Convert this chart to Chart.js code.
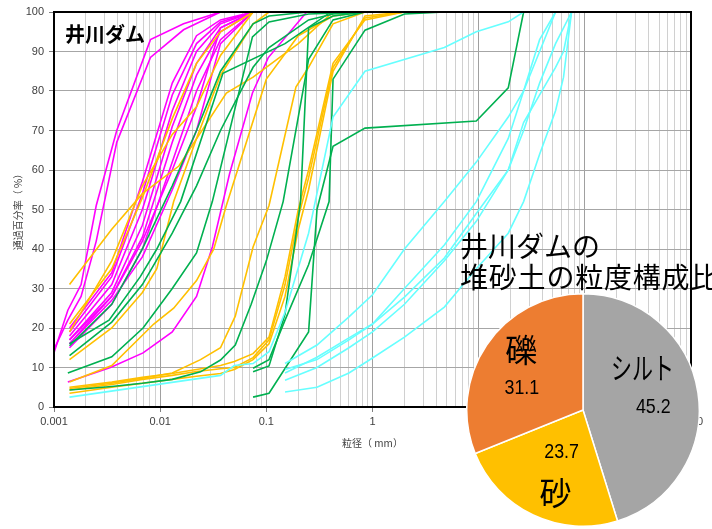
<!DOCTYPE html>
<html>
<head>
<meta charset="utf-8">
<script src="https://cdn.jsdelivr.net/npm/chart.js@4.4.1/dist/chart.umd.min.js"></script>
<style>
  html, body { margin: 0; padding: 0; background: #fff; overflow: hidden; width: 712px; height: 529px; }
  #wrap { position: relative; width: 712px; height: 529px; overflow: hidden; }
  #main { position: absolute; left: 0; top: 0; }
  #pieTitle { position: absolute; left: 460px; top: 230px; font: 28px "Noto Sans CJK JP", sans-serif;
              line-height: 31px; white-space: nowrap; color: #000; }
  #pieTitle .wide { letter-spacing: 0.8px; }
  #pieBox { position: absolute; left: 466px; top: 293px; width: 234px; height: 234px; }
</style>
</head>
<body>
<div id="wrap">
  <canvas id="main" width="712" height="529"></canvas>
  <div id="pieTitle">井川ダムの<br><span class="wide">堆砂土の粒度構成比</span></div>
  <div id="pieBox"><canvas id="pie" width="234" height="234"></canvas></div>
</div>
<script>
// ---- axis labels ----
const xTickLabels = ['0.001', '0.01', '0.1', '1', '10', '100', '1000'];
const yTickValues = [0, 10, 20, 30, 40, 50, 60, 70, 80, 90, 100];
const plotTitle = '井川ダム';
const xTitle = '粒径（ mm）';
const yTitle = '通過百分率（ %）';

// ---- grain size curves: particle size (mm) / percent passing ----
// silt-clay samples (magenta)
const dMgSteep = [0.0009, 0.00135, 0.0018, 0.0025, 0.0039, 0.0081, 0.0166, 0.037, 0.075];
const pMg1 = [10, 24.5, 31, 51, 70, 93, 97, 100, 100];
const pMg2 = [12, 22, 28, 42, 67, 88.5, 95.5, 100, 100];
const dHydro = [0.0014, 0.0035, 0.0068, 0.013, 0.022, 0.037, 0.075];
const pMg3 = [15, 26, 40, 62, 80, 93, 100];
const pMg4 = [16, 28, 43, 67, 84, 95, 100];
const pMg5 = [17, 29, 46, 71, 87, 96, 100];
const pMg6 = [18, 31, 50, 75, 90, 97, 100];
const pMg7 = [19, 33, 54, 79, 92, 97.5, 100];
const pMg8 = [20, 34, 57, 82, 94, 98, 100];
const pMg9 = [16, 27, 38, 55, 70, 92, 100];
const pMg10 = [17, 28, 42, 60, 76, 96, 100];
const dMg11 = [0.00135, 0.0034, 0.0069, 0.013, 0.022, 0.031, 0.045, 0.074, 0.104, 0.24];
const pMg11 = [6.3, 10, 13.7, 19, 28, 40.5, 59, 79.5, 88.4, 100];

// silty sand samples (orange)
const dOr1 = [0.0014, 0.0035, 0.0068, 0.015, 0.042, 0.075, 0.2, 0.425];
const pOr1 = [31, 45, 54, 61, 79.5, 83.5, 92, 100];
const pOr2 = [19, 37, 56, 69, 76, 89, 100];
const pOr3 = [21, 35, 53, 73, 87, 95, 100];
const dOr4 = [0.0014, 0.0035, 0.0068, 0.0093, 0.0134, 0.022, 0.037, 0.075, 0.106];
const pOr4 = [12, 20, 29, 35, 52, 68, 84, 97, 100];
const dOr5 = [0.0014, 0.0035, 0.0087, 0.0134, 0.022, 0.032, 0.042, 0.1, 0.2, 0.425, 0.85];
const pOr5 = [6.3, 10.5, 21, 25, 32, 40, 51, 83, 94, 99, 100];
const dOr6 = [0.0014, 0.0035, 0.0068, 0.013, 0.024, 0.037, 0.051, 0.075, 0.106, 0.19, 0.25, 0.425, 0.85];
const pOr6 = [4.7, 6, 7.3, 8.6, 12, 15, 23, 40.5, 51, 81, 86, 97, 100];
const dLow = [0.0014, 0.0035, 0.0068, 0.013, 0.022, 0.037, 0.05, 0.075, 0.106, 0.15, 0.2, 0.25, 0.425, 0.85, 2];
const pOr7 = [5, 6.3, 7.5, 8.5, 9.5, 10.5, 11.5, 13.5, 17.7, 33, 50, 60, 87, 98, 100];
const pOr8 = [4.3, 5.7, 7, 8, 9, 9.7, 10, 12.5, 17, 31, 48, 58, 86, 98.5, 100];
const pOr9 = [3.5, 5, 6, 7, 7.8, 8.5, 9.5, 12, 16, 28, 45, 55, 85, 99, 100];

// sandy samples (green)
const dGr1 = [0.0014, 0.0035, 0.0068, 0.013, 0.024, 0.037, 0.051, 0.072, 0.1, 0.144, 0.25, 0.425, 0.85];
const pGr1 = [4.3, 5.2, 6, 7, 8.9, 11.9, 15.7, 26, 37, 52, 88, 98, 100];
const dGr2 = [0.0014, 0.0033, 0.0065, 0.0093, 0.0156, 0.039, 0.15, 0.39, 0.85];
const pGr2 = [16, 22, 33, 40, 52, 84.5, 92, 99.7, 100];
const dGr3 = [0.00135, 0.0035, 0.0069, 0.013, 0.022, 0.031, 0.074, 0.106, 0.25, 0.85];
const pGr3 = [8.6, 12.7, 20, 30, 39, 52, 93.7, 97.5, 99.5, 100];
const dGr4 = [0.0014, 0.0035, 0.0068, 0.013, 0.022, 0.037, 0.075, 0.106, 0.25, 0.425, 0.85];
const pGr4 = [13, 21.5, 31, 44, 56, 70, 86, 91, 98, 99.5, 100];
const pGr5 = [15.5, 26, 40, 56, 70, 85, 97, 99, 100, 100, 100];
const dGr6 = [0.075, 0.106, 0.15, 0.21, 0.25, 0.425, 0.85];
const pGr6 = [8.9, 10.4, 23.5, 52, 96, 99, 100];
const dGr7 = [0.075, 0.106, 0.15, 0.25, 0.39, 0.425, 0.85, 2, 4.75];
const pGr7 = [9.8, 12, 22, 36, 52, 83, 95.4, 99.5, 100];
const dGr8 = [0.075, 0.106, 0.25, 0.3, 0.425, 0.85, 9.5, 19, 26.5];
const pGr8 = [2.5, 3.5, 19, 50, 66, 70.6, 72.4, 80.8, 100];

// gravelly samples (cyan)
const dCy1 = [0.0014, 0.037, 0.05, 0.075, 0.106, 0.15, 0.25, 0.425, 0.85, 4.75, 9.5, 19, 26.5];
const pCy1 = [2.5, 8, 10.5, 11, 14, 24, 44, 73.4, 85, 91, 95, 97.5, 100];
const dGravel = [0.15, 0.3, 0.6, 1, 2, 4.75, 9.5, 19, 26.5, 37.5, 53, 63, 75];
const pCy2 = [11, 15.7, 22.8, 28.4, 40, 52, 62, 73.4, 80, 90, 100, 100, 100];
const pCy3 = [8.6, 12.6, 17.5, 21, 27.8, 37.7, 49, 60, 72, 79, 86, 90, 100];
const pCy4 = [6.8, 10, 15, 19, 26, 37, 47, 60, 70, 82, 92, 96, 100];
const pCy5 = [3.8, 5, 8.6, 12.4, 17.7, 25.3, 35, 44, 52, 64, 75, 83.5, 100];
const pCy6 = [9.5, 12, 17, 21, 30, 41, 52, 68, 80, 93, 100, 100, 100];

// ---- composition of the deposit ----
const pieLabels = ['シルト', '砂', '礫'];
const pieValues = [45.2, 23.7, 31.1];

// ---- styling ----
const lineColors = { magenta: '#FF00FF', orange: '#FFC000', green: '#00B050', cyan: '#66FFFF' };
const pieColors = ['#A5A5A5', '#FFC000', '#ED7D31'];
const jpFont = '"Noto Sans CJK JP", sans-serif';
const numFont = '"Liberation Sans", Arial, sans-serif';

const curves = [
  ['cyan', dCy1, pCy1], ['cyan', dGravel, pCy2], ['cyan', dGravel, pCy3],
  ['cyan', dGravel, pCy4], ['cyan', dGravel, pCy5], ['cyan', dGravel, pCy6],
  ['green', dGr1, pGr1], ['green', dGr2, pGr2], ['green', dGr3, pGr3], ['green', dGr4, pGr4],
  ['green', dGr4, pGr5], ['green', dGr6, pGr6], ['green', dGr7, pGr7], ['green', dGr8, pGr8],
  ['orange', dOr1, pOr1], ['orange', dHydro, pOr2], ['orange', dHydro, pOr3], ['orange', dOr4, pOr4],
  ['orange', dOr5, pOr5], ['orange', dOr6, pOr6], ['orange', dLow, pOr7], ['orange', dLow, pOr8],
  ['orange', dLow, pOr9],
  ['magenta', dMgSteep, pMg1], ['magenta', dMgSteep, pMg2], ['magenta', dHydro, pMg3],
  ['magenta', dHydro, pMg4], ['magenta', dHydro, pMg5], ['magenta', dHydro, pMg6],
  ['magenta', dHydro, pMg7], ['magenta', dHydro, pMg8], ['magenta', dHydro, pMg9],
  ['magenta', dHydro, pMg10], ['magenta', dMg11, pMg11]
];

const datasets = curves.map(([c, xs, ys]) => ({
  data: xs.map((x, i) => ({ x: x, y: ys[i] })),
  borderColor: lineColors[c],
  borderWidth: 1.6,
  pointRadius: 0,
  fill: false,
  tension: 0
}));

// decade ticks with the 2..9 minor steps between them
const majorValues = xTickLabels.map(Number);
const xTickValues = [];
majorValues.forEach((v, i) => {
  if (i === majorValues.length - 1) { xTickValues.push(v); return; }
  for (let m = 1; m <= 9; m++) xTickValues.push(Number((v * m).toPrecision(6)));
});
const isMajor = v => Math.abs(Math.log10(v) - Math.round(Math.log10(v))) < 1e-9;

const framePlugin = {
  id: 'frame',
  afterDraw(chart) {
    const { ctx, chartArea: a } = chart;
    ctx.save();
    ctx.strokeStyle = '#000';
    ctx.lineWidth = 2;
    ctx.strokeRect(a.left, a.top, a.right - a.left, a.bottom - a.top);
    ctx.fillStyle = '#000';
    ctx.font = 'bold 20px ' + jpFont;
    ctx.textBaseline = 'middle';
    ctx.textAlign = 'left';
    ctx.fillText(plotTitle, a.left + 11, a.top + 22);
    ctx.restore();
  }
};

new Chart(document.getElementById('main'), {
  type: 'line',
  data: { datasets: datasets },
  options: {
    responsive: false,
    devicePixelRatio: 1,
    animation: false,
    events: [],
    layout: { padding: { top: 12, right: 21, left: 0, bottom: 0 } },
    plugins: { legend: { display: false }, tooltip: { enabled: false } },
    scales: {
      x: {
        type: 'logarithmic',
        min: 0.001, max: 1000,
        afterBuildTicks: s => { s.ticks = xTickValues.map(v => ({ value: v, major: isMajor(v) })); },
        afterFit: s => { s.height = 122; },
        ticks: {
          autoSkip: false, maxRotation: 0, padding: 3,
          font: { family: numFont, size: 11 }, color: '#404040',
          callback: v => isMajor(v) ? xTickLabels[majorValues.findIndex(m => Math.abs(m - v) / m < 1e-9)] : ''
        },
        grid: {
          color: c => (c.tick && isMajor(c.tick.value)) ? '#A0A0A0' : '#D0D0D0',
          lineWidth: 1,
          tickLength: 5,
          tickColor: c => (c.tick && isMajor(c.tick.value)) ? '#808080' : 'rgba(0,0,0,0)'
        },
        border: { display: false },
        title: { display: true, text: xTitle, color: '#404040',
                 font: { family: jpFont, size: 10 }, padding: { top: 0, bottom: 80 } }
      },
      y: {
        min: 0, max: 100,
        afterBuildTicks: s => { s.ticks = yTickValues.map(v => ({ value: v })); },
        afterFit: s => { s.width = 54; },
        ticks: { padding: 5, font: { family: numFont, size: 11 }, color: '#404040' },
        grid: { color: '#A6A6A6', lineWidth: 1, tickLength: 5, tickColor: '#808080' },
        border: { display: false },
        title: { display: true, text: yTitle, color: '#404040',
                 font: { family: jpFont, size: 10 }, padding: { top: 12, bottom: 0 } }
      }
    }
  },
  plugins: [framePlugin]
});

// label placement inside each slice: angle shift from the slice middle (deg), radius fraction
const sliceNameLayout = [[-27, 0.63], [-7, 0.75], [10, 0.74]];
const sliceValueLayout = [[6, 0.605], [1.3, 0.41], [-14, 0.56]];
const sliceNameFont = [[30, 0.7], [32, 1], [32, 1]];

const pieLabelPlugin = {
  id: 'pieLabels',
  afterDatasetsDraw(chart) {
    const { ctx } = chart;
    const arcs = chart.getDatasetMeta(0).data;
    ctx.save();
    ctx.fillStyle = '#000';
    ctx.textAlign = 'center';
    ctx.textBaseline = 'middle';
    arcs.forEach((arc, i) => {
      const p = arc.getProps(['x', 'y', 'startAngle', 'endAngle', 'outerRadius'], true);
      const mid = (p.startAngle + p.endAngle) / 2;
      const put = (text, layout, font, sx) => {
        const ang = mid + layout[0] * Math.PI / 180;
        const r = p.outerRadius * layout[1];
        const tx = p.x + Math.cos(ang) * r;
        const ty = p.y + Math.sin(ang) * r;
        ctx.save();
        ctx.translate(tx, ty);
        ctx.scale(sx, 1);
        ctx.font = font;
        ctx.fillText(text, 0, 0);
        ctx.restore();
      };
      put(pieLabels[i], sliceNameLayout[i], sliceNameFont[i][0] + 'px ' + jpFont, sliceNameFont[i][1]);
      put(pieValues[i].toFixed(1), sliceValueLayout[i], '21px ' + numFont, 0.85);
    });
    ctx.restore();
  }
};

new Chart(document.getElementById('pie'), {
  type: 'pie',
  data: {
    labels: pieLabels,
    datasets: [{ data: pieValues, backgroundColor: pieColors, borderColor: '#FFFFFF', borderWidth: 1.5 }]
  },
  options: {
    responsive: false,
    devicePixelRatio: 1,
    animation: false,
    events: [],
    layout: { padding: 0 },
    plugins: { legend: { display: false }, tooltip: { enabled: false } }
  },
  plugins: [pieLabelPlugin]
});
</script>
</body>
</html>
